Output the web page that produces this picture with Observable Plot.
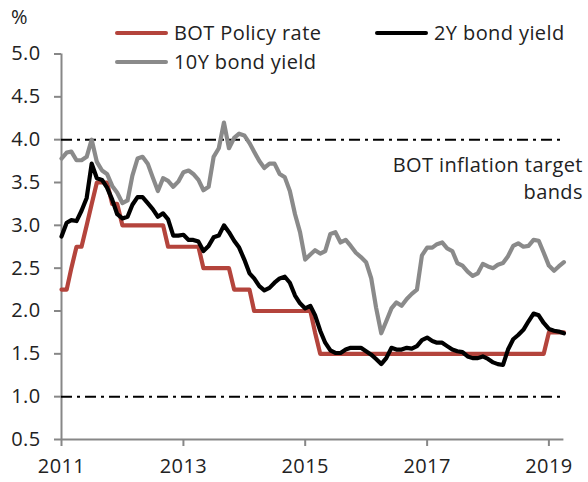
<!DOCTYPE html>
<html>
<head>
<meta charset="utf-8">
<script src="https://cdn.jsdelivr.net/npm/d3@7"></script>
<script src="https://cdn.jsdelivr.net/npm/@observablehq/plot@0.6"></script>
<style>
  body { margin: 0; background: #fff; }
  #wrap { position: relative; width: 588px; height: 482px; font-family: "Open Sans", sans-serif; color: #222; }
  #wrap svg { position: absolute; left: 0; top: 0; }
  #wrap svg text { letter-spacing: 0.4px; }
  .lg { position: absolute; font-size: 20px; letter-spacing: 0.4px; line-height: 26px; white-space: nowrap; display: flex; align-items: center; }
  .sw { display: inline-block; width: 53px; height: 4px; margin-right: 6px; border-radius: 2px; }
</style>
</head>
<body>
<div id="wrap"></div>
<script>
// ---- data ----
const startMonth = "2011-01-01";
const endMonth = "2019-04-01";
const seriesNames = ["BOT Policy rate", "2Y bond yield", "10Y bond yield"];
const seriesColors = ["#b4443c", "#000000", "#8a8a8a"];
const policyRate = [
  2.25, 2.25, 2.50, 2.75, 2.75, 3.00, 3.25, 3.50, 3.50, 3.50,
  3.25, 3.25, 3.00, 3.00, 3.00, 3.00, 3.00, 3.00, 3.00, 3.00,
  3.00, 2.75, 2.75, 2.75, 2.75, 2.75, 2.75, 2.75, 2.50, 2.50,
  2.50, 2.50, 2.50, 2.50, 2.25, 2.25, 2.25, 2.25, 2.00, 2.00,
  2.00, 2.00, 2.00, 2.00, 2.00, 2.00, 2.00, 2.00, 2.00, 2.00,
  1.75, 1.50, 1.50, 1.50, 1.50, 1.50, 1.50, 1.50, 1.50, 1.50,
  1.50, 1.50, 1.50, 1.50, 1.50, 1.50, 1.50, 1.50, 1.50, 1.50,
  1.50, 1.50, 1.50, 1.50, 1.50, 1.50, 1.50, 1.50, 1.50, 1.50,
  1.50, 1.50, 1.50, 1.50, 1.50, 1.50, 1.50, 1.50, 1.50, 1.50,
  1.50, 1.50, 1.50, 1.50, 1.50, 1.50, 1.75, 1.75, 1.75, 1.75
];
const bond2Y = [
  2.87, 3.03, 3.06, 3.05, 3.17, 3.32, 3.72, 3.55, 3.53, 3.44,
  3.30, 3.13, 3.08, 3.10, 3.24, 3.33, 3.33, 3.26, 3.19, 3.10,
  3.14, 3.07, 2.88, 2.88, 2.89, 2.83, 2.83, 2.81, 2.70, 2.76,
  2.86, 2.88, 3.00, 2.92, 2.82, 2.74, 2.60, 2.44, 2.38, 2.29,
  2.24, 2.27, 2.33, 2.38, 2.40, 2.33, 2.18, 2.09, 2.03, 2.06,
  1.95, 1.77, 1.63, 1.54, 1.51, 1.51, 1.55, 1.57, 1.57, 1.57,
  1.53, 1.49, 1.44, 1.38, 1.45, 1.57, 1.55, 1.55, 1.57, 1.56,
  1.59, 1.66, 1.69, 1.65, 1.63, 1.63, 1.59, 1.55, 1.53, 1.52,
  1.47, 1.45, 1.45, 1.47, 1.44, 1.40, 1.38, 1.37, 1.55, 1.67,
  1.72, 1.78, 1.88, 1.97, 1.95, 1.86, 1.79, 1.77, 1.76, 1.74
];
const bond10Y = [
  3.78, 3.85, 3.86, 3.76, 3.76, 3.80, 4.00, 3.74, 3.64, 3.60,
  3.46, 3.38, 3.26, 3.29, 3.58, 3.78, 3.80, 3.72, 3.56, 3.40,
  3.55, 3.52, 3.45, 3.51, 3.62, 3.64, 3.60, 3.53, 3.41, 3.45,
  3.80, 3.90, 4.20, 3.90, 4.02, 4.07, 4.05, 3.96, 3.86, 3.75,
  3.67, 3.72, 3.72, 3.60, 3.56, 3.40, 3.13, 2.92, 2.60, 2.66,
  2.71, 2.67, 2.70, 2.90, 2.92, 2.80, 2.83, 2.76, 2.68, 2.63,
  2.57, 2.38, 2.04, 1.74, 1.88, 2.03, 2.10, 2.06, 2.14, 2.20,
  2.25, 2.65, 2.74, 2.74, 2.78, 2.80, 2.73, 2.70, 2.56, 2.53,
  2.46, 2.41, 2.44, 2.55, 2.52, 2.50, 2.54, 2.56, 2.64, 2.76,
  2.79, 2.75, 2.76, 2.83, 2.82, 2.68, 2.53, 2.47, 2.52, 2.57
];
const targetBands = [4.0, 1.0];
const yTicks = [0.5, 1.0, 1.5, 2.0, 2.5, 3.0, 3.5, 4.0, 4.5, 5.0];
const xTickYears = ["2011", "2013", "2015", "2017", "2019"];
const annotation = [{date: "2019-04-01", value: 3.57, label: "BOT inflation target\nbands"}];

// ---- build ----
const parse = d3.utcParse("%Y-%m-%d");
const months = d3.utcMonth.range(parse(startMonth), d3.utcMonth.offset(parse(endMonth), 1));
const seriesValues = [policyRate, bond2Y, bond10Y];
const rows = seriesValues.map((vals, i) => vals.map((v, j) => ({date: months[j], value: v, series: seriesNames[i]})));
const xTicks = xTickYears.map(y => d3.utcParse("%Y")(y));
const ann = annotation.map(d => ({...d, date: parse(d.date)}));
const axisGray = "#878787";

const chart = Plot.plot({
  width: 588,
  height: 482,
  marginLeft: 61,
  marginRight: 24.6,
  marginTop: 53.5,
  marginBottom: 43,
  style: {fontFamily: "'Open Sans', sans-serif", fontSize: "20px", color: "#222", background: "transparent", overflow: "visible"},
  x: {type: "utc", domain: [parse(startMonth), parse(endMonth)]},
  y: {domain: [0.5, 5.0]},
  marks: [
    Plot.ruleY([0.5], {stroke: axisGray, strokeWidth: 2}),
    Plot.ruleX([parse(startMonth)], {y1: 0.5, y2: 5.0, stroke: axisGray, strokeWidth: 2}),
    Plot.axisY({ticks: yTicks, tickFormat: d3.format(".1f"), tickSize: 7, tickPadding: 14, stroke: axisGray, strokeWidth: 2, strokeOpacity: 1, fill: "#222", fontSize: 20, label: null}),
    Plot.axisX({ticks: xTicks, tickFormat: d3.utcFormat("%Y"), tickSize: 7, tickPadding: 12, stroke: axisGray, strokeWidth: 2, strokeOpacity: 1, fill: "#222", fontSize: 20, label: null}),
    Plot.ruleY(targetBands, {stroke: "#000", strokeWidth: 2, strokeDasharray: "11,5,3,5"}),
    Plot.line(rows[0], {x: "date", y: "value", stroke: seriesColors[0], strokeWidth: 4.2}),
    Plot.line(rows[1], {x: "date", y: "value", stroke: seriesColors[1], strokeWidth: 4.2}),
    Plot.line(rows[2], {x: "date", y: "value", stroke: seriesColors[2], strokeWidth: 4.2}),
    Plot.text(ann, {x: "date", y: "value", text: "label", textAnchor: "end", lineAnchor: "middle", dx: 19, lineHeight: 1.35, fill: "#222", fontSize: 20})
  ]
});

const wrap = document.getElementById("wrap");
wrap.appendChild(chart);

function addText(text, left, top) {
  const d = document.createElement("div");
  d.className = "lg";
  d.style.left = left + "px";
  d.style.top = top + "px";
  d.textContent = text;
  wrap.appendChild(d);
}
function addLegend(i, left, top) {
  const d = document.createElement("div");
  d.className = "lg";
  d.style.left = left + "px";
  d.style.top = top + "px";
  const s = document.createElement("span");
  s.className = "sw";
  s.style.background = seriesColors[i];
  d.appendChild(s);
  d.appendChild(document.createTextNode(seriesNames[i]));
  wrap.appendChild(d);
}
addText("%", 11, 4);
addLegend(0, 115, 20);
addLegend(1, 375, 20);
addLegend(2, 115, 49);
</script>
</body>
</html>
